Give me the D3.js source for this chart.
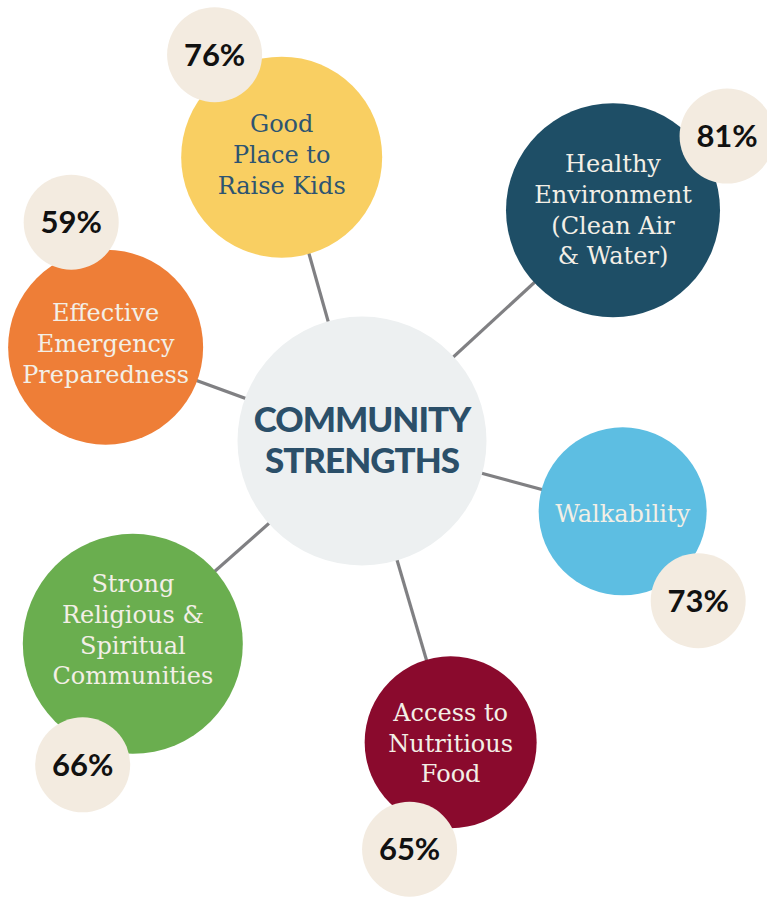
<!DOCTYPE html>
<html lang="en">
<head>
<meta charset="UTF-8">
<title>Community Strengths</title>
<script src="https://cdnjs.cloudflare.com/ajax/libs/d3/7.8.5/d3.min.js"></script>
<style>
body { margin: 0; background: #fff; }
svg { display: block; }
.label { font-family: 'DejaVu Serif', serif; }
.pct { font-family: 'Lato', 'Noto Sans', sans-serif; font-weight: 700; }
.title { font-family: 'Lato', 'Noto Sans', sans-serif; font-weight: 900; letter-spacing: -1px; }
</style>
</head>
<body>
<svg class="chart"></svg>
<script>
// chart data
const categories = [
    ['Good', 'Place to', 'Raise Kids'],
    ['Healthy', 'Environment', '(Clean Air', '& Water)'],
    ['Walkability'],
    ['Access to', 'Nutritious', 'Food'],
    ['Strong', 'Religious &', 'Spiritual', 'Communities'],
    ['Effective', 'Emergency', 'Preparedness']
];
const percents = [76, 81, 73, 65, 66, 59];
const title = ['COMMUNITY', 'STRENGTHS'];

// layout: bubble angle (deg, clockwise from 12 o'clock), distance from hub, radius
const bubbleAngle = [-15.8, 47.4, 105.1, 163.6, 228.5, -69.9];
const bubbleDist  = [295, 341, 270, 314, 306, 273];
const bubbleR     = [100.5, 107, 84, 86, 110, 97.5];
const labelDy     = [6, 8, 10.5, 9.5, -5.5, 5];
// percent badge angle / distance relative to its bubble
const badgeAngle = [-33.2, 57, 139.8, 201, 202.5, -15.4];
const badgeDist  = [122.5, 136, 117, 114.6, 131, 129.7];

const fills     = ['#f9cf62', '#1e4e66', '#5dbee2', '#8a0a2d', '#6aae4f', '#ee7e37'];
const textFills = ['#2d5471', '#f3efe6', '#f3efe6', '#f3efe6', '#f3efe6', '#f3efe6'];

const width = 767, height = 897;
const hub = { x: 362, y: 441, r: 124.5 };
const badgeR = 47.5;
const lineH = 30.7;

const svg = d3.select('svg.chart')
    .attr('width', width)
    .attr('height', height);

const rad = d => d * Math.PI / 180;

const nodes = categories.map((lines, i) => {
    const [bx, by] = d3.pointRadial(rad(bubbleAngle[i]), bubbleDist[i]);
    const x = hub.x + bx, y = hub.y + by;
    const [px, py] = d3.pointRadial(rad(badgeAngle[i]), badgeDist[i]);
    return { lines, pct: percents[i], x, y, r: bubbleR[i], px: x + px, py: y + py,
             dy: labelDy[i], fill: fills[i], tfill: textFills[i] };
});

// spokes
svg.append('g').selectAll('line')
    .data(nodes)
    .join('line')
    .attr('x1', hub.x).attr('y1', hub.y)
    .attr('x2', d => d.x).attr('y2', d => d.y)
    .attr('stroke', '#808083')
    .attr('stroke-width', 3.2);

// category bubbles
const bub = svg.append('g').selectAll('g')
    .data(nodes)
    .join('g')
    .attr('transform', d => `translate(${d.x},${d.y})`);

bub.append('circle')
    .attr('r', d => d.r)
    .attr('fill', d => d.fill);

bub.append('text')
    .attr('class', 'label')
    .attr('text-anchor', 'middle')
    .attr('font-size', 24)
    .attr('fill', d => d.tfill)
    .selectAll('tspan')
    .data(d => d.lines.map((t, j) => ({ t, j, n: d.lines.length, dy: d.dy })))
    .join('tspan')
    .attr('x', 0)
    .attr('y', d => (d.j - (d.n - 1) / 2) * lineH + d.dy)
    .text(d => d.t);

// hub
svg.append('circle')
    .attr('cx', hub.x).attr('cy', hub.y).attr('r', hub.r)
    .attr('fill', '#edf0f1');

svg.append('text')
    .attr('class', 'title')
    .attr('text-anchor', 'middle')
    .attr('font-size', 35)
    .attr('fill', '#2b4f69')
    .selectAll('tspan')
    .data(title)
    .join('tspan')
    .attr('x', hub.x)
    .attr('y', (d, j) => hub.y - 9 + j * 41)
    .text(d => d);

// percent badges
const badge = svg.append('g').selectAll('g')
    .data(nodes)
    .join('g')
    .attr('transform', d => `translate(${d.px},${d.py})`);

badge.append('circle')
    .attr('r', badgeR)
    .attr('fill', '#f3ebe0');

badge.append('text')
    .attr('class', 'pct')
    .attr('text-anchor', 'middle')
    .attr('y', 11)
    .attr('font-size', 31)
    .attr('fill', '#111')
    .text(d => d.pct + '%');
</script>
</body>
</html>
